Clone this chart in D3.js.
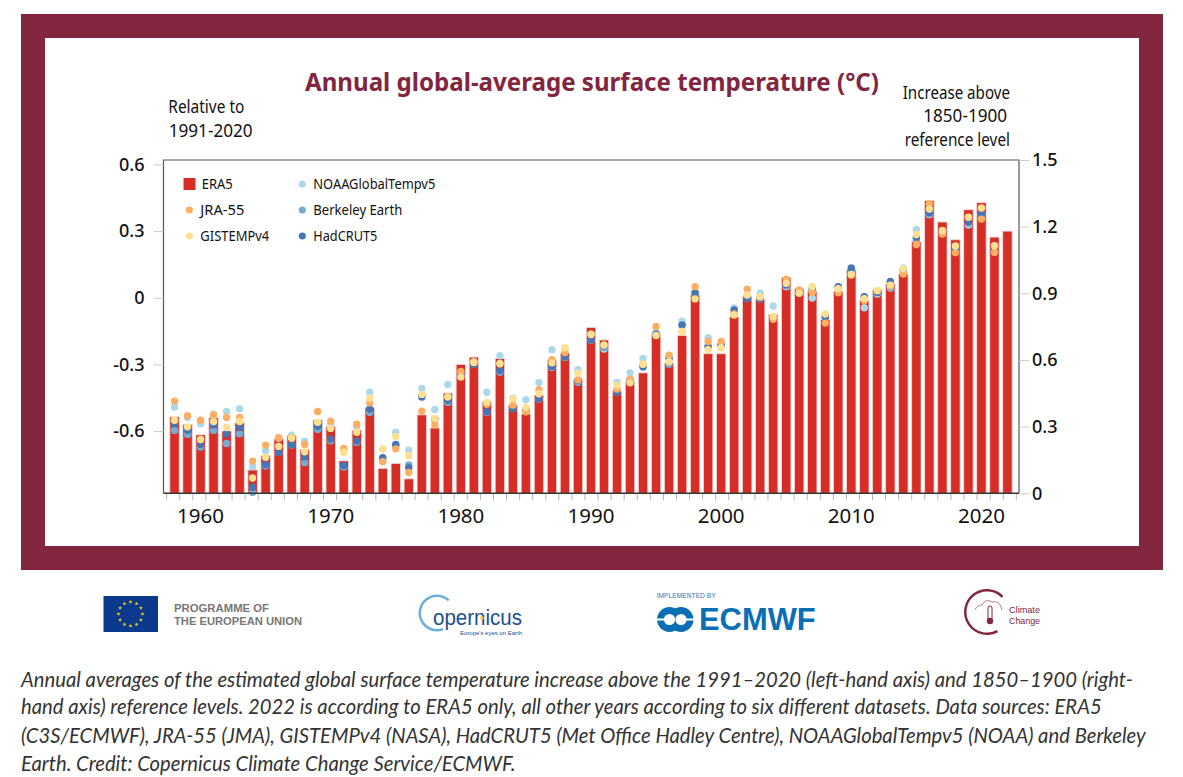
<!DOCTYPE html>
<html>
<head>
<meta charset="utf-8">
<script src="https://cdn.jsdelivr.net/npm/d3@7"></script>
<style>
body { margin: 0; background: #fff; }
svg { display: block; }
text { font-family: "Noto Sans", sans-serif; fill: #111; }
.caption { font-family: Lato, sans-serif; font-style: italic; font-size: 20.25px; fill: #333; }
</style>
</head>
<body>
<svg></svg>
<script>
// anomalies relative to 1991-2020
var years = d3.range(1958, 2023);
var era5 = [-0.536,-0.57,-0.617,-0.54,-0.60,-0.563,-0.775,-0.711,-0.635,-0.621,-0.684,-0.55,-0.579,-0.734,-0.596,-0.495,-0.768,-0.746,-0.815,-0.527,-0.586,-0.429,
  -0.30,-0.267,-0.467,-0.273,-0.483,-0.523,-0.438,-0.28,-0.249,-0.366,-0.134,-0.19,-0.423,-0.378,-0.338,-0.165,-0.294,-0.17,0.013,-0.252,-0.252,
  -0.086,0.005,-0.009,-0.075,0.091,0.04,0.03,-0.099,0.03,0.126,-0.014,0.036,0.063,0.107,0.252,0.437,0.341,0.261,0.396,0.428,0.273,0.30];
var jra55 = [-0.465,-0.531,-0.551,-0.527,-0.539,-0.539,-0.735,-0.663,-0.630,-0.629,-0.660,-0.512,-0.555,-0.678,-0.569,-0.473,-0.738,-0.680,-0.786,-0.510,-0.572,-0.446,
  -0.332,-0.288,-0.479,-0.296,-0.483,-0.513,-0.414,-0.279,-0.246,-0.369,-0.164,-0.212,-0.411,-0.366,-0.299,-0.129,-0.258,-0.152,0.050,-0.197,-0.197,
  -0.073,0.039,0.002,-0.097,0.084,0.035,0.024,-0.114,0.023,0.102,-0.013,0.032,0.054,0.107,0.240,0.422,0.287,0.203,0.362,0.354,0.204];
var gistemp = [-0.551,-0.581,-0.638,-0.557,-0.584,-0.557,-0.811,-0.718,-0.669,-0.632,-0.693,-0.560,-0.588,-0.695,-0.605,-0.451,-0.680,-0.624,-0.711,-0.435,-0.543,-0.446,
  -0.357,-0.291,-0.471,-0.297,-0.455,-0.494,-0.432,-0.293,-0.225,-0.339,-0.165,-0.213,-0.393,-0.383,-0.299,-0.170,-0.288,-0.152,-0.005,-0.234,-0.225,
  -0.078,0.012,0.005,-0.084,0.065,0.020,0.050,-0.073,0.041,0.105,-0.004,0.033,0.057,0.131,0.285,0.399,0.303,0.233,0.363,0.404,0.234];
var noaa = [-0.492,-0.539,-0.567,-0.524,-0.512,-0.500,-0.760,-0.688,-0.632,-0.618,-0.645,-0.561,-0.569,-0.688,-0.580,-0.425,-0.681,-0.605,-0.686,-0.408,-0.503,-0.390,
  -0.347,-0.288,-0.425,-0.261,-0.452,-0.459,-0.381,-0.234,-0.227,-0.324,-0.164,-0.231,-0.381,-0.338,-0.273,-0.156,-0.276,-0.105,0.023,-0.180,-0.216,
  -0.046,0.012,0.020,-0.037,0.050,0.024,-0.001,-0.088,0.047,0.114,-0.045,0.017,0.044,0.134,0.308,0.374,0.294,0.212,0.327,0.374,0.219];
var berkeley = [-0.597,-0.615,-0.672,-0.597,-0.656,-0.612,-0.876,-0.757,-0.696,-0.663,-0.742,-0.593,-0.644,-0.762,-0.651,-0.516,-0.726,-0.665,-0.752,-0.438,-0.546,-0.471,
  -0.351,-0.299,-0.516,-0.335,-0.497,-0.506,-0.456,-0.314,-0.269,-0.381,-0.191,-0.224,-0.425,-0.371,-0.311,-0.164,-0.299,-0.122,0.014,-0.224,-0.212,
  -0.061,-0.003,-0.005,-0.086,0.054,0.024,0.035,-0.088,0.047,0.125,0.002,0.024,0.047,0.122,0.260,0.377,0.293,0.212,0.335,0.374,0.215];
var hadcrut = [-0.566,-0.596,-0.660,-0.572,-0.612,-0.584,-0.853,-0.751,-0.696,-0.662,-0.715,-0.578,-0.636,-0.755,-0.645,-0.501,-0.720,-0.660,-0.765,-0.447,-0.545,-0.461,
  -0.351,-0.299,-0.513,-0.327,-0.500,-0.506,-0.453,-0.309,-0.266,-0.371,-0.189,-0.216,-0.425,-0.371,-0.311,-0.164,-0.272,-0.123,0.023,-0.219,-0.212,
  -0.055,-0.003,-0.005,-0.086,0.059,0.024,0.041,-0.085,0.050,0.134,0.005,0.024,0.073,0.125,0.272,0.383,0.294,0.215,0.342,0.377,0.216];

var leftTicks = [-0.6, -0.3, 0, 0.3, 0.6];
var rightTicks = [0, 0.3, 0.6, 0.9, 1.2, 1.5];
var decades = [1960, 1970, 1980, 1990, 2000, 2010, 2020];

// drawn bottom to top
var dotSeries = [
  {name: "NOAAGlobalTempv5", values: noaa, color: "#abd9e9"},
  {name: "Berkeley Earth", values: berkeley, color: "#74add1"},
  {name: "HadCRUT5", values: hadcrut, color: "#4575b4"},
  {name: "JRA-55", values: jra55, color: "#fdae61"},
  {name: "GISTEMPv4", values: gistemp, color: "#fee090"}
];

var svg = d3.select("svg").attr("width", 1183).attr("height", 777);

// frame
svg.append("rect").attr("x", 21).attr("y", 14).attr("width", 1142).attr("height", 556).attr("fill", "#82253f");
svg.append("rect").attr("x", 45).attr("y", 38).attr("width", 1094).attr("height", 508).attr("fill", "#fff");

var plot = {left: 163.5, right: 1019, top: 160, bottom: 493.3};

var x = d3.scaleBand().domain(years).range([166.2, 1015.8]).padding(0.28);
var xEdges = d3.scaleLinear().domain([1958, 2023]).range([166.2, 1015.8]);
var y = d3.scaleLinear().domain([-0.88, 0.62]).range([plot.bottom, plot.top]);
var yRight = d3.scaleLinear().domain([0, 1.5]).range([plot.bottom, plot.top]);

// bars
svg.selectAll("rect.bar")
  .data(era5)
  .enter()
  .append("rect")
  .attr("class", "bar")
  .attr("x", function(d, i) { return x(years[i]); })
  .attr("y", function(d) { return y(d); })
  .attr("width", x.bandwidth())
  .attr("height", function(d) { return plot.bottom - y(d); })
  .attr("fill", "#d62e26")
  .attr("stroke", "#f3d5d5")
  .attr("stroke-width", 0.8);

// dots, one group per dataset
dotSeries.forEach(function(s) {
  svg.append("g").selectAll("circle")
    .data(s.values)
    .enter()
    .append("circle")
    .attr("cx", function(d, i) { return x(years[i]) + x.bandwidth() / 2; })
    .attr("cy", function(d) { return y(d); })
    .attr("r", 3.7)
    .attr("fill", s.color);
});

// plot box, top and sides
svg.append("path")
  .attr("d", d3.line()([[plot.left, plot.bottom], [plot.left, plot.top], [plot.right, plot.top], [plot.right, plot.bottom]]))
  .attr("fill", "none")
  .attr("stroke", "#555")
  .attr("stroke-width", 1.2);

// axes
var leftAxis = svg.append("g")
  .attr("transform", "translate(" + plot.left + ",0)")
  .call(d3.axisLeft(y).tickValues(leftTicks).tickSize(10).tickPadding(9).tickFormat(function(d) { return d === 0 ? "0" : d3.format(".1f")(d).replace("\u2212", "-"); }));
var rightAxis = svg.append("g")
  .attr("transform", "translate(" + plot.right + ",0)")
  .call(d3.axisRight(yRight).tickValues(rightTicks).tickSize(10).tickPadding(3).tickFormat(function(d) { return d === 0 ? "0" : d3.format(".1f")(d); }));
var xTicks = svg.append("g")
  .attr("transform", "translate(0," + plot.bottom + ")")
  .call(d3.axisBottom(xEdges).tickValues(d3.range(1958, 2024)).tickSize(7).tickFormat(""));
var xLabels = svg.append("g")
  .attr("transform", "translate(0," + plot.bottom + ")")
  .call(d3.axisBottom(x).tickValues(decades).tickSize(0).tickPadding(15));

[leftAxis, rightAxis].forEach(function(g) {
  g.selectAll("text").style("font-size", "18px").style("font-weight", 500).style("font-family", "'Noto Sans', sans-serif").attr("fill", "#111");
});
xLabels.selectAll("text").style("font-size", "20.5px").style("font-family", "'Noto Sans', sans-serif").attr("fill", "#111");
leftAxis.selectAll("line").attr("stroke", "#ccc");
rightAxis.selectAll("line").attr("stroke", "#ccc");
xTicks.selectAll("line").attr("stroke", "#b5b5b5");
leftAxis.select(".domain").remove();
rightAxis.select(".domain").remove();
xTicks.select(".domain").remove();
xLabels.select(".domain").attr("d", "M" + plot.left + ",0H" + plot.right).attr("stroke", "#333").attr("stroke-width", 1.4);

// titles
svg.append("text").attr("x", 592).attr("y", 91).attr("text-anchor", "middle")
  .attr("textLength", 574).attr("lengthAdjust", "spacingAndGlyphs")
  .style("font-size", "25px").style("font-weight", 700).style("fill", "#82253f")
  .text("Annual global-average surface temperature (°C)");

// no condensed font here, so squeeze to the measured width
function narrowText(tx, ty, str, w, size) {
  return svg.append("text").attr("x", tx).attr("y", ty)
    .attr("textLength", w).attr("lengthAdjust", "spacingAndGlyphs")
    .style("font-size", size + "px").text(str);
}
narrowText(168.3, 113, "Relative to", 76, 18.5);
narrowText(168.7, 137, "1991-2020", 84, 18.5);
narrowText(902.7, 99, "Increase above", 107.3, 18.5);
narrowText(923.3, 122.3, "1850-1900", 83.7, 18.5);
narrowText(904.7, 146, "reference level", 105.3, 18.5);

// legend
var legendItems = [
  {name: "JRA-55", color: "#fdae61", col: 0, row: 1, w: 44},
  {name: "GISTEMPv4", color: "#fee090", col: 0, row: 2, w: 69},
  {name: "NOAAGlobalTempv5", color: "#abd9e9", col: 1, row: 0, w: 122},
  {name: "Berkeley Earth", color: "#74add1", col: 1, row: 1, w: 89},
  {name: "HadCRUT5", color: "#4575b4", col: 1, row: 2, w: 64}
];
var legendX = [189.3, 302.3], legendTextX = [200.3, 313.3], legendY = [184, 210, 236];
svg.append("rect").attr("x", 183.5).attr("y", 178).attr("width", 12).attr("height", 12).attr("fill", "#d62e26");
narrowText(201.7, 188.8, "ERA5", 31, 15);
legendItems.forEach(function(d) {
  svg.append("circle").attr("cx", legendX[d.col]).attr("cy", legendY[d.row]).attr("r", 3.6).attr("fill", d.color);
  narrowText(legendTextX[d.col], legendY[d.row] + 5, d.name, d.w, 15);
});

// logos
var logos = svg.append("g");
function logoText(tx, ty, str, w, size, weight, color) {
  return logos.append("text").attr("x", tx).attr("y", ty)
    .attr("textLength", w).attr("lengthAdjust", "spacingAndGlyphs")
    .style("font-family", "'Liberation Sans', sans-serif")
    .style("font-size", size + "px").style("font-weight", weight).style("fill", color).text(str);
}
logos.append("rect").attr("x", 103.5).attr("y", 596).attr("width", 54.5).attr("height", 36).attr("fill", "#0b3a8c");
d3.range(12).forEach(function(i) {
  var a = i * Math.PI / 6;
  logos.append("path")
    .attr("d", d3.symbol().type(d3.symbolStar).size(5)())
    .attr("transform", "translate(" + (130.5 + 12 * Math.sin(a)) + "," + (614 - 12 * Math.cos(a)) + ")")
    .attr("fill", "#ffd617");
});
logoText(174, 612, "PROGRAMME OF", 95, 11, 700, "#777");
logoText(174, 625, "THE EUROPEAN UNION", 128, 11, 700, "#777");

// copernicus
logos.append("path")
  .attr("d", d3.arc().innerRadius(16).outerRadius(18.5).startAngle(0.75).endAngle(-3.5)())
  .attr("transform", "translate(437,613)").attr("fill", "#6aaede");
logoText(433, 624.5, "opernicus", 89, 22, 400, "#1c4f8f");
logos.append("circle").attr("cx", 482).attr("cy", 618).attr("r", 1.8).attr("fill", "#f5c518");
logoText(460, 635, "Europe's eyes on Earth", 62, 6, 400, "#1c4f8f");

// ecmwf
logoText(656.7, 597.7, "IMPLEMENTED BY", 59, 6.4, 400, "#2f74b5");
[669.5, 681].forEach(function(cx) {
  logos.append("circle").attr("cx", cx).attr("cy", 619.5).attr("r", 12.5).attr("fill", "#0a6fb4");
});
[669.5, 681].forEach(function(cx) {
  logos.append("circle").attr("cx", cx).attr("cy", 619.5).attr("r", 5.6).attr("fill", "#fff");
});
logos.append("rect").attr("x", 657).attr("y", 618.5).attr("width", 14).attr("height", 2).attr("fill", "#fff");
logos.append("rect").attr("x", 680).attr("y", 618.5).attr("width", 14).attr("height", 2).attr("fill", "#fff");
logoText(699, 630, "ECMWF", 116.7, 31, 700, "#0a6fb4");

// climate change
logos.append("path").attr("d", d3.arc().innerRadius(20.5).outerRadius(23).startAngle(0.8).endAngle(-3.64)())
  .attr("transform", "translate(987,612)").attr("fill", "#82253f");
logos.append("path").attr("d", "M975 610q2 -5 7 -5q4 -7 10 -3q8 -2 10 8")
  .attr("fill", "none").attr("stroke", "#a8566a").attr("stroke-width", 0.8);
logos.append("rect").attr("x", 988).attr("y", 606).attr("width", 4).attr("height", 14).attr("rx", 2).attr("fill", "#fff").attr("stroke", "#82253f");
logos.append("circle").attr("cx", 990).attr("cy", 621).attr("r", 3.2).attr("fill", "#82253f");
logoText(1009, 613, "Climate", 31, 9.5, 400, "#82253f");
logoText(1009, 624, "Change", 31, 9.5, 400, "#82253f");

// caption
var captionLines = [
  "Annual averages of the estimated global surface temperature increase above the 1991–2020 (left-hand axis) and 1850–1900 (right-",
  "hand axis) reference levels. 2022 is according to ERA5 only, all other years according to six different datasets. Data sources: ERA5",
  "(C3S/ECMWF), JRA-55 (JMA), GISTEMPv4 (NASA), HadCRUT5 (Met Office Hadley Centre), NOAAGlobalTempv5 (NOAA) and Berkeley",
  "Earth. Credit: Copernicus Climate Change Service/ECMWF."
];
var captionY = [687, 714, 743, 771];
captionLines.forEach(function(line, i) {
  svg.append("text").attr("class", "caption").attr("x", 21).attr("y", captionY[i]).text(line);
});
</script>
</body>
</html>
